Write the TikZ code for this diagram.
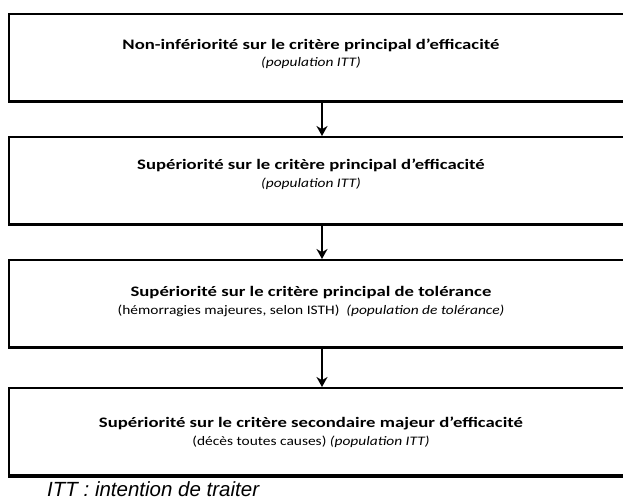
\documentclass[tikz,border=0pt]{standalone}
\usepackage{fontspec}
\usepackage{graphicx}
\setmainfont{Carlito}
\newfontfamily\notefont{Liberation Sans}
\usetikzlibrary{positioning,arrows.meta}

\newcommand\subline[1]{{\fontsize{13bp}{17.5bp}\selectfont\scalebox{0.92}[1]{#1}}}

\begin{document}
\begin{tikzpicture} [
    x=1bp, y=1bp,
    node distance = 34bp,
    boxstyle/.style = {draw,
                       line width=2bp,
                       minimum width=625bp,
                       minimum height=87bp},
    txtstyle/.style = {align=center,
                       transform shape,
                       xscale=1.29,
                       font=\fontsize{14.5bp}{17.5bp}\selectfont},
    arr/.style      = {line width=1.6bp,
                       -{Stealth[length=10bp,width=11bp]}}
]
\useasboundingbox (0,0) rectangle (623,500);
% boxes
\node (b1) [boxstyle] at (322,442.5) {};
\node (b2) [boxstyle, below=of b1] {};
\node (b3) [boxstyle, below=of b2] {};
\node (b4) [boxstyle, below=39bp of b3] {};
% thicker bottom edges
\foreach \b in {b1,b2,b3,b4}
    \draw[line width=3bp] (\b.south west) -- (\b.south east);
% texts
\node (t1) [txtstyle] at ([xshift=-11bp,yshift=3.5bp]b1.center) {
\textbf{Non-infériorité sur le critère principal d’efficacité} \\
\subline{\textit{(population ITT)}}
};
\node (t2) [txtstyle] at ([xshift=-11bp,yshift=6bp]b2.center) {
\textbf{Supériorité sur le critère principal d’efficacité} \\
\subline{\textit{(population ITT)}}
};
\node (t3) [txtstyle] at ([xshift=-11bp,yshift=2bp]b3.center) {
\textbf{Supériorité sur le critère principal de tolérance} \\
\subline{(hémorragies majeures, selon ISTH)\ \ \textit{(population de tolérance)}}
};
\node (t4) [txtstyle] at ([xshift=-11bp,yshift=-1bp]b4.center) {
\textbf{Supériorité sur le critère secondaire majeur d’efficacité} \\
\subline{(décès toutes causes) \textit{(population ITT)}}
};
% arrows
\draw[arr] (b1) -- (b2);
\draw[arr] (b2) -- (b3);
\draw[arr] (b3) -- (b4);
% note
\node (note) [anchor=base west, inner sep=0pt, font=\notefont\itshape\fontsize{20.5bp}{22bp}\selectfont]
    at (47,3.5) {ITT : intention de traiter};
\end{tikzpicture}
\end{document}
